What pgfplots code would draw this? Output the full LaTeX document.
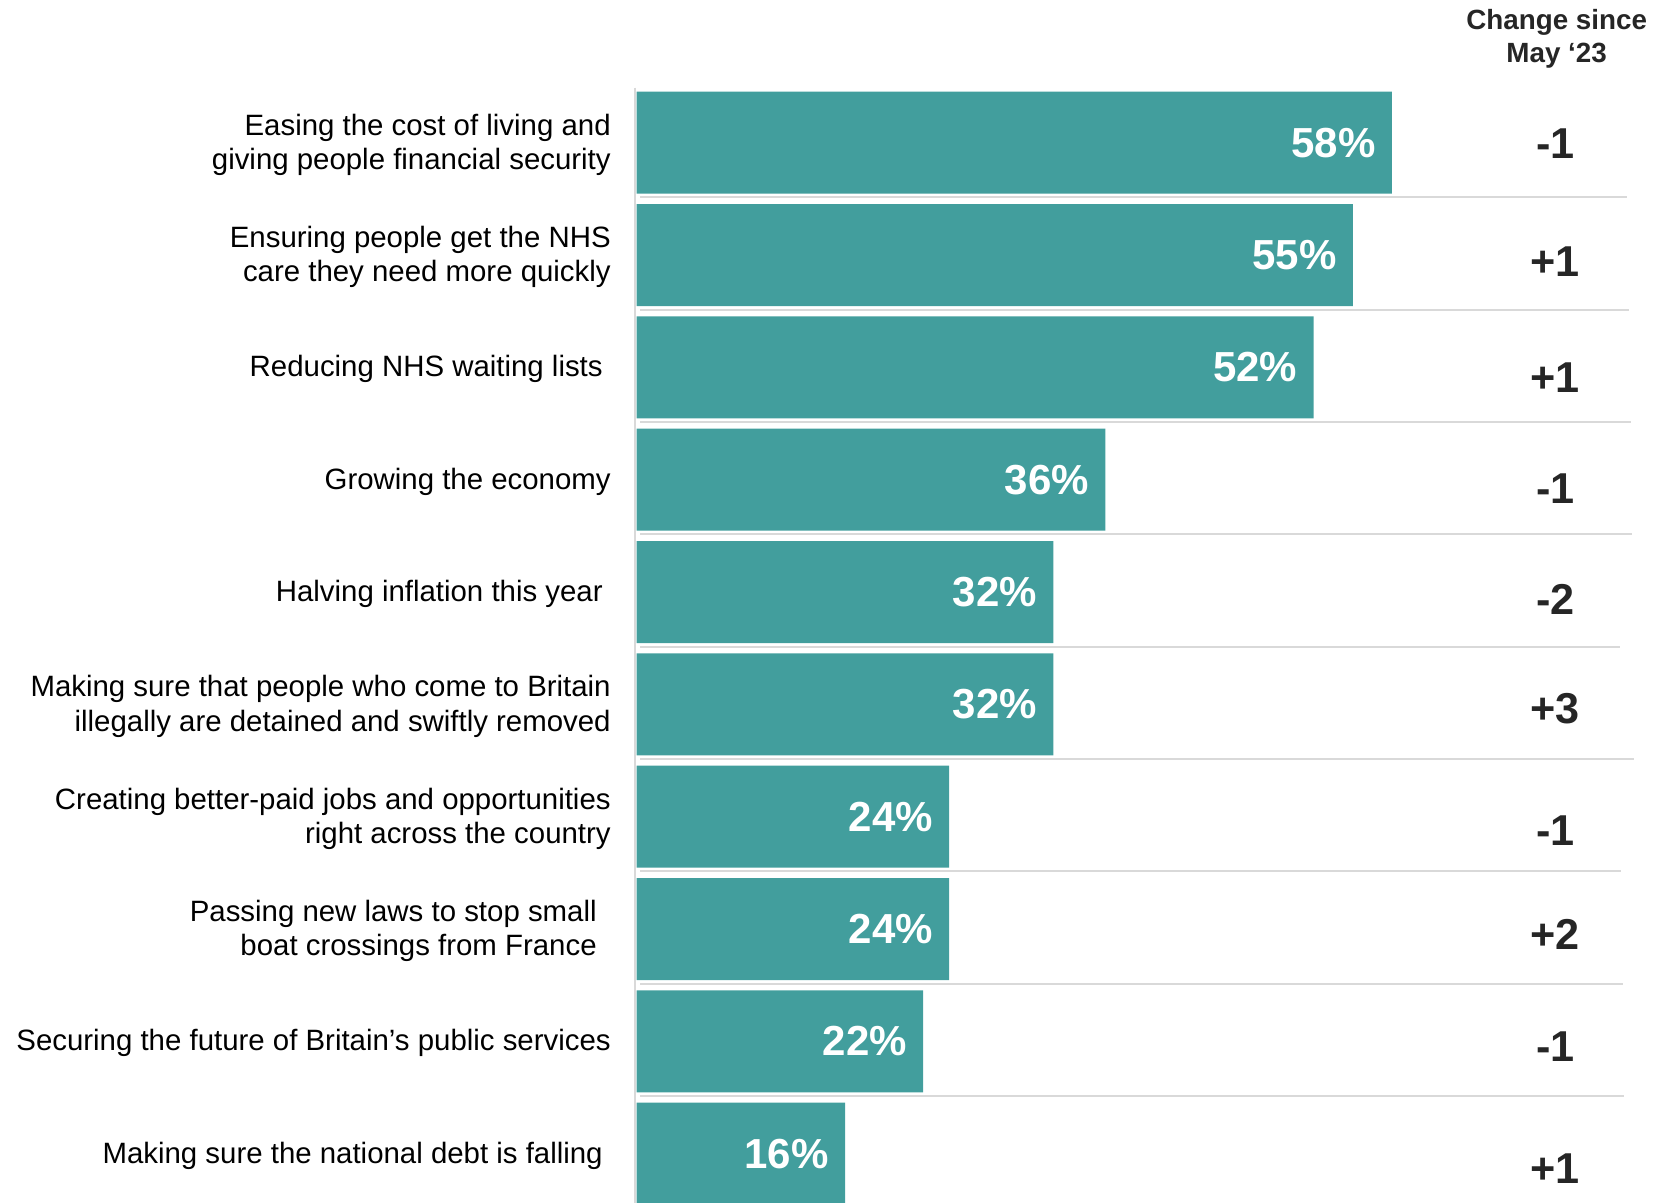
\documentclass[border=0pt]{standalone}
\usepackage{pgfplots}
\pgfplotsset{compat=1.18}
\usepackage{pgfplotstable}
\usepackage{fontspec}
\setmainfont{Liberation Sans}
\definecolor{barteal}{RGB}{66,158,157}
\definecolor{sepgray}{RGB}{217,217,217}
\definecolor{txtdark}{RGB}{38,38,38}

\pgfplotstableread{
row val
1 58
2 55
3 52
4 36
5 32
6 32
7 24
8 24
9 22
10 16
}\bardata

\pgfplotstableread{
x y lab
70.55 1.012 -1
70.55 2.059 +1
70.55 3.095 +1
70.55 4.083 -1
70.55 5.062 -2
70.55 6.041 +3
70.55 7.127 -1
70.55 8.049 +2
70.55 9.047 -1
70.55 10.131 +1
}\changedata

\begin{document}
\begin{tikzpicture}
\begin{axis}[
  at={(0,0)}, anchor=south west,
  scale only axis, width=519.15pt, height=601.5pt,
  xmin=0, xmax=79.746, ymin=-0.2704, ymax=10.439, y dir=reverse,
  axis line style={draw=none},
  xtick=\empty, ytick={1,...,10},
  yticklabels={
    {Easing the cost of living and\\giving people financial security},
    {Ensuring people get the NHS\\care they need more quickly},
    {Reducing NHS waiting lists\hspace*{4pt}},
    {Growing the economy},
    {Halving inflation this year\hspace*{4pt}},
    {Making sure that people who come to Britain\\illegally are detained and swiftly removed},
    {Creating better-paid jobs and opportunities\\right across the country},
    {Passing new laws to stop small\hspace*{7pt}\\boat crossings from France\hspace*{7pt}},
    {Securing the future of Britain’s public services},
    {Making sure the national debt is falling\hspace*{4pt}}
  },
  major tick length=0pt,
  yticklabel style={anchor=east, align=right, inner sep=0pt, xshift=-12.8pt, yshift=-1pt,
    font=\fontsize{14.7}{17.2}\selectfont, text=black},
  /pgf/number format/assume math mode=true,
  clip=false,
]
% separators
\addplot[sepgray, line width=1pt] coordinates {(0.26,1.485) (76.06,1.485)};
\addplot[sepgray, line width=1pt] coordinates {(0.26,2.485) (76.21,2.485)};
\addplot[sepgray, line width=1pt] coordinates {(0.26,3.485) (76.37,3.485)};
\addplot[sepgray, line width=1pt] coordinates {(0.26,4.485) (76.44,4.485)};
\addplot[sepgray, line width=1pt] coordinates {(0.26,5.485) (75.54,5.485)};
\addplot[sepgray, line width=1pt] coordinates {(0.26,6.485) (76.60,6.485)};
\addplot[sepgray, line width=1pt] coordinates {(0.26,7.485) (75.61,7.485)};
\addplot[sepgray, line width=1pt] coordinates {(0.26,8.485) (75.76,8.485)};
\addplot[sepgray, line width=1pt] coordinates {(0.26,9.485) (75.84,9.485)};
% vertical axis line
\addplot[sepgray, line width=1pt] coordinates {(-0.13,0.509) (-0.13,10.439)};
% bars
\addplot[xbar, bar width=0.908, fill=barteal, draw=none,
  point meta=x,
  nodes near coords={\pgfmathprintnumber[assume math mode=true]{\pgfplotspointmeta}\%},
  every node near coord/.append style={anchor=east, xshift=-8pt, inner sep=0pt,
    text=white, font=\bfseries\fontsize{21}{25}\selectfont}]
  table[x=val, y=row] {\bardata};
% change column
\addplot[draw=none, mark=none, point meta=explicit symbolic,
  nodes near coords,
  every node near coord/.append style={anchor=center, inner sep=0pt,
    text=txtdark, font=\bfseries\fontsize{21.6}{26}\selectfont}]
  table[x=x, y=y, meta=lab] {\changedata};
\node[anchor=north, align=center, inner sep=0pt, text=txtdark,
  font=\bfseries\fontsize{13.9}{16.5}\selectfont]
  at (axis cs:70.66,-0.195) {Change since\\May ‘23};
\end{axis}
\pgfresetboundingbox
\path[use as bounding box] (-318.35pt,0pt) rectangle (519.15pt,601.5pt);
\end{tikzpicture}
\end{document}
